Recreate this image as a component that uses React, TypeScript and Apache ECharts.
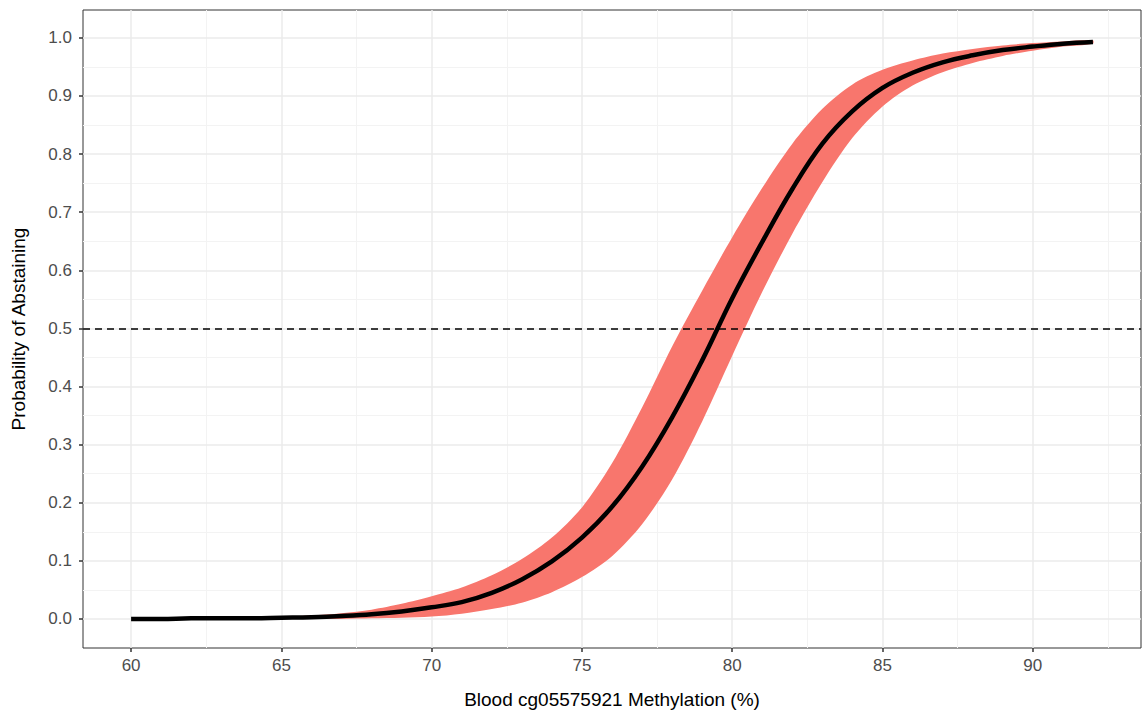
import { useEffect, useRef } from "react";
import * as echarts from "echarts";

const xValues = [60, 61, 62, 63, 64, 65, 66, 67, 68, 69, 70, 71, 72, 73, 74, 75, 76, 77, 78, 79, 80, 81, 82, 83, 84, 85, 86, 87, 88, 89, 90, 91, 92];
const fitValues = [0.0, 0.0, 0.001, 0.001, 0.001, 0.002, 0.003, 0.005, 0.008, 0.013, 0.02, 0.029, 0.045, 0.068, 0.099, 0.14, 0.193, 0.262, 0.347, 0.445, 0.552, 0.649, 0.74, 0.818, 0.874, 0.914, 0.94, 0.958, 0.97, 0.979, 0.985, 0.99, 0.993];
const lowerValues = [0.0, 0.0, 0.0, 0.0, 0.0, 0.0, 0.0, 0.0, 0.001, 0.002, 0.004, 0.009, 0.017, 0.028, 0.046, 0.072, 0.108, 0.163, 0.24, 0.34, 0.453, 0.563, 0.663, 0.752, 0.828, 0.882, 0.918, 0.941, 0.957, 0.969, 0.978, 0.985, 0.99];
const upperValues = [0.0, 0.0, 0.001, 0.002, 0.003, 0.004, 0.006, 0.01, 0.016, 0.026, 0.039, 0.054, 0.075, 0.103, 0.14, 0.192, 0.268, 0.364, 0.469, 0.565, 0.657, 0.742, 0.818, 0.878, 0.92, 0.945, 0.961, 0.973, 0.981, 0.987, 0.991, 0.994, 0.996];
const xTicks = [60, 65, 70, 75, 80, 85, 90];
const yTicks = [0, 0.1, 0.2, 0.3, 0.4, 0.5, 0.6, 0.7, 0.8, 0.9, 1.0];
const xMinorGrid = [62.5, 67.5, 72.5, 77.5, 82.5, 87.5, 92.5];
const yMinorGrid = [0.05, 0.15, 0.25, 0.35, 0.45, 0.55, 0.65, 0.75, 0.85, 0.95];
const threshold = 0.5;
const xTitle = "Blood cg05575921 Methylation (%)";
const yTitle = "Probability of Abstaining";

export default function App() {
  const ref = useRef<HTMLDivElement>(null);
  useEffect(() => {
    if (!ref.current) return;
    const chart = echarts.init(ref.current, undefined, { renderer: "svg" });
    const font = "Arial, 'Liberation Sans', sans-serif";
    const pairs = (vals: number[]) => xValues.map((x, i) => [x, vals[i]]);
    const bandData = xValues.map((x, i) => [x, lowerValues[i], upperValues[i]]);
    const gridMajor = { color: "#ebebeb", width: 1.5, type: "solid" };
    const gridMinor = { color: "#f3f3f3", width: 1, type: "solid" };
    const gridLines: any[] = [
      ...xMinorGrid.map((v) => ({ xAxis: v, lineStyle: gridMinor })),
      ...yMinorGrid.map((v) => ({ yAxis: v, lineStyle: gridMinor })),
      ...xTicks.map((v) => ({ xAxis: v, lineStyle: gridMajor })),
      ...yTicks.map((v) => ({ yAxis: v, lineStyle: gridMajor })),
    ];
    chart.setOption({
      animation: false,
      backgroundColor: "#ffffff",
      grid: {
        left: 83,
        right: 5,
        top: 10,
        bottom: 65,
        show: true,
        borderColor: "#333333",
        borderWidth: 1,
        backgroundColor: "transparent",
      },
      xAxis: {
        type: "value",
        min: 58.4,
        max: 93.6,
        name: xTitle,
        nameLocation: "middle",
        nameGap: 42,
        nameTextStyle: { fontFamily: font, fontSize: 19, color: "#000000" },
        axisLine: { show: false, onZero: false },
        axisTick: { show: true, length: 4, customValues: xTicks, lineStyle: { color: "#333333", width: 1.5 } },
        axisLabel: { customValues: xTicks, fontFamily: font, fontSize: 17, color: "#4d4d4d", margin: 9 },
        splitLine: { show: false },
      },
      yAxis: {
        type: "value",
        min: -0.05,
        max: 1.048,
        name: yTitle,
        nameLocation: "middle",
        nameGap: 55,
        nameTextStyle: { fontFamily: font, fontSize: 19, color: "#000000" },
        axisLine: { show: false, onZero: false },
        axisTick: { show: true, length: 4, customValues: yTicks, lineStyle: { color: "#333333", width: 1.5 } },
        axisLabel: {
          customValues: yTicks,
          fontFamily: font,
          fontSize: 17,
          color: "#4d4d4d",
          margin: 11,
          formatter: (v: number) => v.toFixed(1),
        },
        splitLine: { show: false },
      },
      series: [
        {
          name: "grid",
          type: "line",
          data: [],
          silent: true,
          z: 0,
          markLine: { silent: true, z: 0, symbol: "none", label: { show: false }, data: gridLines },
        },
        {
          name: "band",
          type: "custom",
          data: bandData,
          silent: true,
          z: 2,
          encode: { x: 0, y: [1, 2] },
          renderItem: (params: any, api: any) => {
            if (params.dataIndex !== 0) return null;
            const top = bandData.map((d) => api.coord([d[0], d[2]]));
            const bottom = bandData.map((d) => api.coord([d[0], d[1]])).reverse();
            return {
              type: "polygon",
              shape: { points: [...top, ...bottom], smooth: 0.3 },
              style: { fill: "#F8766D", stroke: "none" },
            };
          },
        },
        {
          name: "fit",
          type: "line",
          data: pairs(fitValues),
          showSymbol: false,
          smooth: 0.4,
          lineStyle: { color: "#000000", width: 4.5, cap: "butt", join: "round" },
          z: 3,
          markLine: {
            silent: true,
            z: 6,
            symbol: "none",
            label: { show: false },
            lineStyle: { color: "#000000", width: 1.5, type: [7, 5] },
            data: [{ yAxis: threshold }],
          },
        },
      ],
    });
    return () => chart.dispose();
  }, []);
  return <div ref={ref} style={{ position: "fixed", left: 0, top: 0, width: 1146, height: 714 }} />;
}
